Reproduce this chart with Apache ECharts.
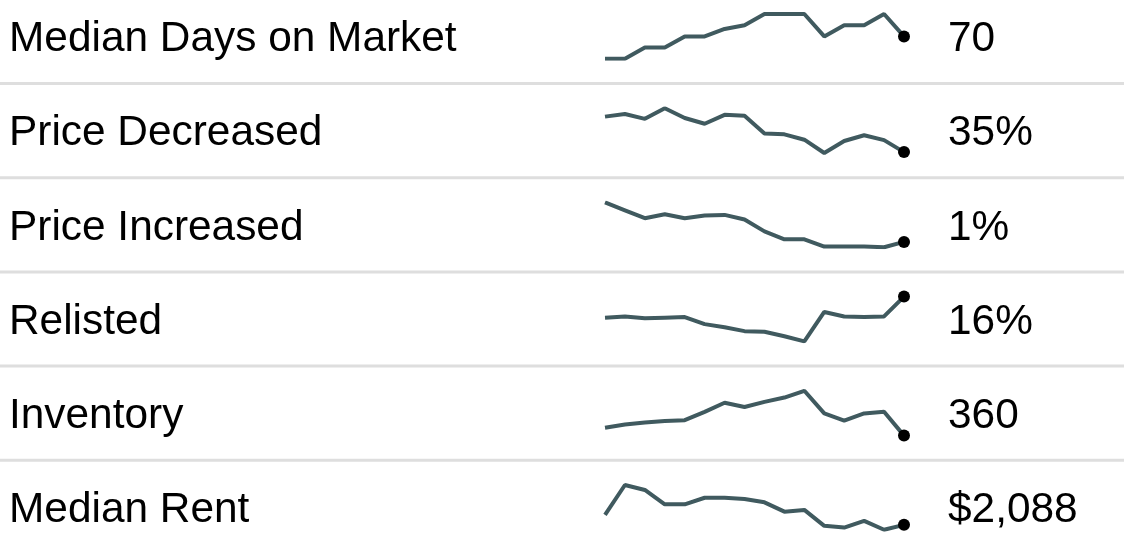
<!DOCTYPE html>
<html>
<head>
<meta charset="utf-8">
<script src="https://cdn.jsdelivr.net/npm/echarts@6/dist/echarts.min.js"></script>
<style>
  html, body { margin: 0; padding: 0; background: #fff; }
  #chart { width: 1124px; height: 543px; }
</style>
</head>
<body>
<div id="chart"></div>
<script>
// periods along each sparkline
const periods = ['Jan', 'Feb', 'Mar', 'Apr', 'May', 'Jun', 'Jul', 'Aug',
  'Sep', 'Oct', 'Nov', 'Dec', 'Jan ', 'Feb ', 'Mar ', 'Apr '];

const metricNames = ['Median Days on Market', 'Price Decreased', 'Price Increased',
  'Relisted', 'Inventory', 'Median Rent'];
const latestLabels = ['70', '35%', '1%', '16%', '360', '$2,088'];

const daysOnMarket = [64, 64, 67, 67, 70, 70, 72, 73, 76, 76, 76, 70, 73, 73, 76, 70];
const priceDecreased = [43.0, 43.6, 42.5, 44.9, 42.7, 41.4, 43.4, 43.2, 39.2, 39.0, 37.8, 34.8, 37.5, 38.8, 37.7, 35.0];
const priceIncreased = [4.0, 3.4, 2.8, 3.1, 2.8, 3.0, 3.05, 2.7, 1.8, 1.2, 1.2, 0.65, 0.65, 0.65, 0.6, 1.0];
const relisted = [12.7, 12.9, 12.6, 12.7, 12.8, 11.7, 11.2, 10.6, 10.5, 9.8, 9.0, 13.6, 12.9, 12.8, 12.9, 16.0];
const inventory = [380, 388, 393, 397, 399, 420, 443, 432, 445, 456, 473, 416, 398, 416, 420, 360];
const medianRent = [2138, 2288, 2263, 2191, 2191, 2224, 2224, 2218, 2201, 2154, 2163, 2083, 2074, 2108, 2063, 2088];

const seriesData = [daysOnMarket, priceDecreased, priceIncreased, relisted, inventory, medianRent];

const chart = echarts.init(document.getElementById('chart'));

const rowStep = 94.2;
const grids = [];
const xAxes = [];
const yAxes = [];
const series = [];
const graphics = [];

seriesData.forEach((values, i) => {
  grids.push({ left: 605, width: 299, top: 14 + rowStep * i, height: 44.8 });
  xAxes.push({
    gridIndex: i,
    type: 'category',
    boundaryGap: false,
    data: periods,
    show: false,
  });
  yAxes.push({
    gridIndex: i,
    type: 'value',
    min: 'dataMin',
    max: 'dataMax',
    show: false,
  });
  series.push({
    type: 'line',
    xAxisIndex: i,
    yAxisIndex: i,
    symbol: 'none',
    lineStyle: { color: '#405a5f', width: 4 },
    // only the latest point gets a dot
    data: values.map((v, j) => (j === values.length - 1
      ? { value: v, symbol: 'circle', symbolSize: 12, itemStyle: { color: '#000' } }
      : v)),
  });

  const cy = 39.5 + rowStep * i;
  graphics.push({
    type: 'text',
    left: 9,
    top: cy - 21,
    style: {
      text: metricNames[i],
      font: '42.4px "Liberation Sans", Arial, sans-serif',
      fill: '#000',
    },
  });
  graphics.push({
    type: 'text',
    left: 948,
    top: cy - 21,
    style: {
      text: latestLabels[i],
      font: '42.4px "Liberation Sans", Arial, sans-serif',
      fill: '#000',
    },
  });
  if (i < seriesData.length - 1) {
    const ly = 83.5 + rowStep * i;
    graphics.push({
      type: 'line',
      shape: { x1: 0, y1: ly, x2: 1124, y2: ly },
      style: { stroke: '#dedede', lineWidth: 3 },
    });
  }
});

chart.setOption({
  animation: false,
  backgroundColor: '#fff',
  grid: grids,
  xAxis: xAxes,
  yAxis: yAxes,
  series: series,
  graphic: graphics,
});
</script>
</body>
</html>
